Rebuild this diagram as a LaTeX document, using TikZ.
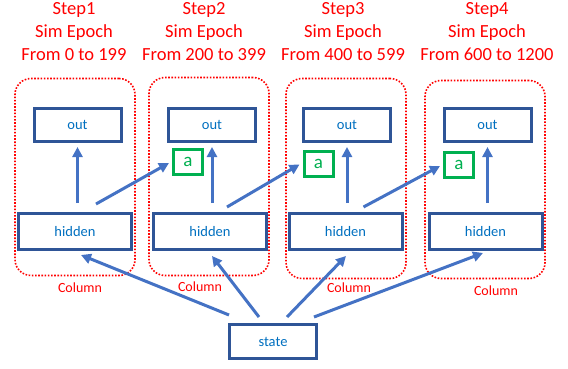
\documentclass[tikz,border=0pt]{standalone}
\usepackage{fontspec}
\setmainfont{Carlito}
\usepackage{tikz}
\usetikzlibrary{calc,arrows.meta}
\definecolor{boxblue}{HTML}{2F5597}
\definecolor{txtblue}{HTML}{0070C0}
\definecolor{arrblue}{HTML}{4472C4}
\definecolor{agreen}{HTML}{00B050}

\begin{document}
\begin{tikzpicture}[x=1pt, y=-1pt,
        unit/.style={draw=boxblue, line width=3pt, fill=white, text=txtblue,
            font=\fontsize{14.5}{16}\selectfont, inner sep=0pt},
        outbox/.style={unit, minimum width=87pt, minimum height=33pt},
        hidbox/.style={unit, minimum width=113pt, minimum height=36pt},
        abox/.style={draw=agreen, line width=3pt, fill=white, text=agreen,
            font=\fontsize{19}{20}\selectfont, inner sep=0pt,
            minimum width=29pt, minimum height=25pt},
        column/.style={draw=red, line width=1.6pt, dash pattern=on 1.6pt off 1.6pt,
            rounded corners=16pt, minimum width=120pt, inner sep=0pt},
        steptitle/.style={text=red, align=center, font=\fontsize{18.5}{23}\selectfont},
        collabel/.style={text=red, font=\fontsize{14}{15}\selectfont},
        conn/.style={draw=arrblue, line width=3pt,
            -{Triangle[length=10pt, width=10pt]}}]
        \useasboundingbox (0,0) rectangle (568,369);
        % columns
        \node[column, minimum height=197pt] (col1) at (75,177) {};
        \node[column, minimum height=198pt] (col2) at (209,176.5) {};
        \node[column, minimum height=200pt] (col3) at (346,178.5) {};
        \node[column, minimum height=198pt] (col4) at (485,179.5) {};
        \node[collabel] (lab1) at (80,288) {Column};
        \node[collabel] (lab2) at (200,287) {Column};
        \node[collabel] (lab3) at (349,288) {Column};
        \node[collabel] (lab4) at (496,291) {Column};
        % titles
        \node[steptitle] (step1) at (74,32) {Step1\\Sim Epoch\\From 0 to 199};
        \node[steptitle] (step2) at (204,32) {Step2\\Sim Epoch\\From 200 to 399};
        \node[steptitle] (step3) at (343,32) {Step3\\Sim Epoch\\From 400 to 599};
        \node[steptitle] (step4) at (487,32) {Step4\\Sim Epoch\\From 600 to 1200};
        % units
        \node[outbox] (out1) at (77.5,125) {out};
        \node[outbox] (out2) at (212,125) {out};
        \node[outbox] (out3) at (347,125) {out};
        \node[outbox] (out4) at (487.5,125) {out};
        \node[hidbox] (hidden1) at (75,231.5) {hidden};
        \node[hidbox] (hidden2) at (210,231.5) {hidden};
        \node[hidbox] (hidden3) at (345.5,231.5) {hidden};
        \node[hidbox] (hidden4) at (485.5,231.5) {hidden};
        \node[abox] (a2) at (188,162) {a};
        \node[abox] (a3) at (318.5,163.5) {a};
        \node[abox] (a4) at (459,165) {a};
        \node[unit, minimum width=87pt, minimum height=34pt] (state) at (273,341.5) {state};
        % hidden -> out
        \draw[conn] ($(out1.south |- hidden1.north)+(0,-9)$) -- ($(out1.south)+(0,4)$);
        \draw[conn] ($(out2.south |- hidden2.north)+(0,-9)$) -- ($(out2.south)+(0,4)$);
        \draw[conn] ($(out3.south |- hidden3.north)+(0,-9)$) -- ($(out3.south)+(0,4)$);
        \draw[conn] ($(out4.south |- hidden4.north)+(0,-9)$) -- ($(out4.south)+(0,4)$);
        % hidden -> a of next column
        \draw[conn] ($(hidden1.north)+(21,-8)$) -- ($(a2.west)+(-3,1)$);
        \draw[conn] ($(hidden2.north)+(17,-5)$) -- ($(a3.west)+(-3,1)$);
        \draw[conn] ($(hidden3.north)+(18,-5)$) -- ($(a4.west)+(-3,1)$);
        % state -> hidden
        \draw[conn] ($(state.north west)+(1,-8)$) -- ($(hidden1.south)+(6,4)$);
        \draw[conn] ($(state.north west)+(31,-6)$) -- ($(hidden2.south)+(2,5)$);
        \draw[conn] ($(state.north west)+(59,-6)$) -- ($(hidden3.south)+(0.5,5)$);
        \draw[conn] ($(state.north west)+(86,-6)$) -- ($(hidden4.south)+(-2.5,2)$);
        %
    \end{tikzpicture}
\end{document}
